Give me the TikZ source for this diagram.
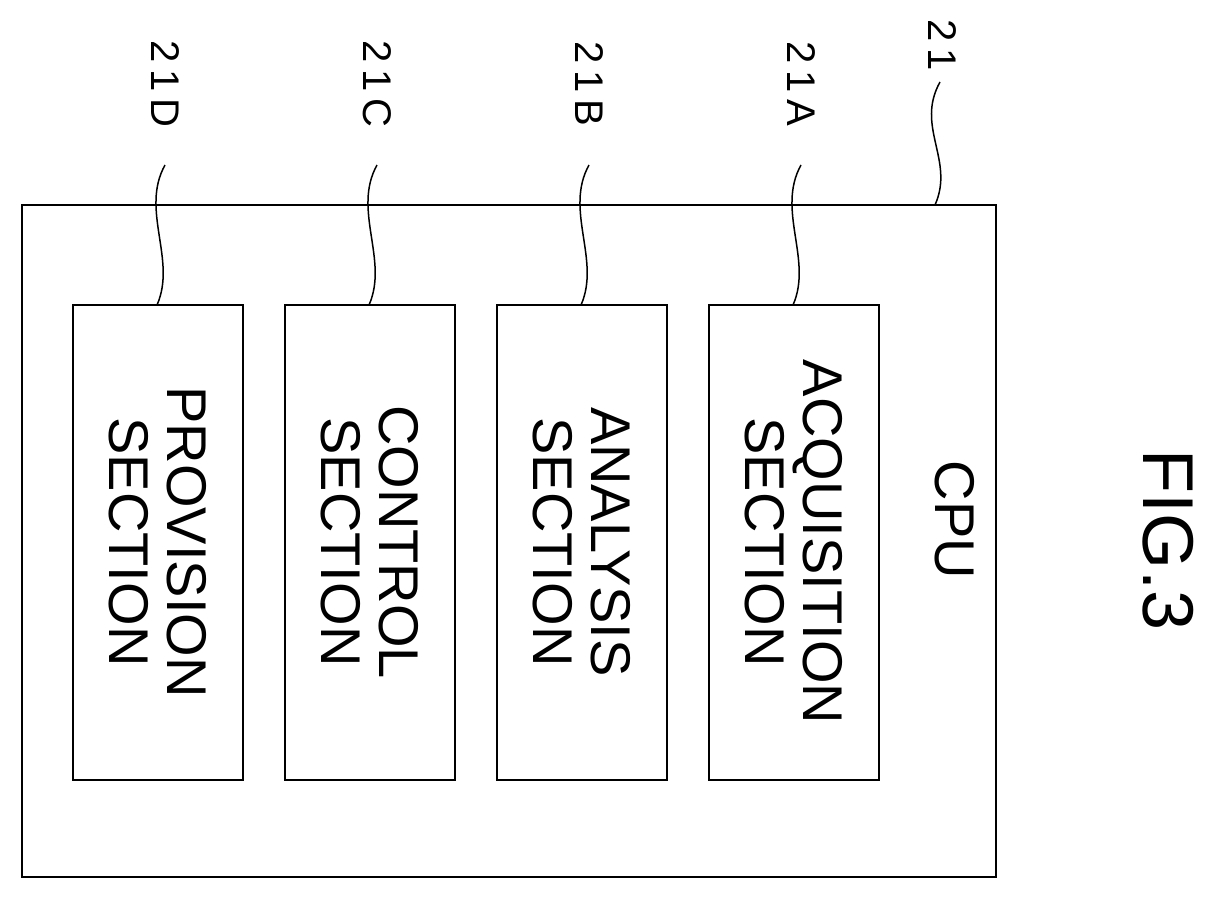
\documentclass[tikz,border=0pt]{standalone}
\usepackage{fontspec}
\setmainfont{Liberation Sans}
\begin{document}
\begin{tikzpicture}[x=1pt,y=-1pt,line width=2.5pt]
    \tikzstyle{part}=[draw=black,line width=2.5pt]
    \tikzstyle{btext}=[rotate=-90,align=center,font=\fontsize{56}{58}\selectfont]
    \tikzstyle{ref}=[rotate=-90,font=\fontsize{40}{44}\selectfont]
    \tikzstyle{lead}=[line width=1.5pt]

    \useasboundingbox (0,0) rectangle (1208,900);

    \draw[part] (22,205) rectangle (996,877);
    \node[btext] (cpu) at (955,520) {CPU};
    \node[rotate=-90,font=\fontsize{72}{80}\selectfont] (fig) at (1168,540) {FIG.3};

    \foreach \name / \x / \txt in {D/73/PROVISION\\SECTION, C/285/CONTROL\\SECTION,
                                   B/497/ANALYSIS\\SECTION, A/709/ACQUISITION\\SECTION}
    {
        \draw[part] (\x,305) rectangle (\x+170,780);
        \node[btext] (S-\name) at (\x+85,542) {\txt};
        \node[ref] (R-\name) at (\x+92,84) {2\,1\,\name};
        \coordinate (T-\name) at (\x+92,165);
        \coordinate (B-\name) at (\x+84,305);
        \draw[lead] (T-\name) .. controls +(-25,45) and +(20,-45) .. (B-\name);
    }

    \node[ref] (R-cpu) at (942,45) {2\,1};
    \coordinate (T-cpu) at (940,82);
    \coordinate (B-cpu) at (935,205);
    \draw[lead] (T-cpu) .. controls +(-25,45) and +(20,-45) .. (B-cpu);
\end{tikzpicture}
\end{document}
